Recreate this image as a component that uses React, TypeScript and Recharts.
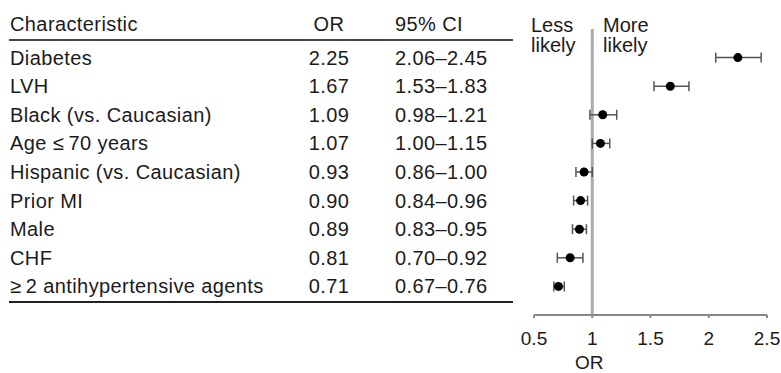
import {
  ErrorBar,
  ReferenceLine,
  Scatter,
  ScatterChart,
  XAxis,
  YAxis,
} from "recharts";

const characteristics = [
  "Diabetes",
  "LVH",
  "Black (vs. Caucasian)",
  "Age \u2264\u200970 years",
  "Hispanic (vs. Caucasian)",
  "Prior MI",
  "Male",
  "CHF",
  "\u2265\u20092 antihypertensive agents",
];
const oddsRatios = [2.25, 1.67, 1.09, 1.07, 0.93, 0.9, 0.89, 0.81, 0.71];
const ciLower = [2.06, 1.53, 0.98, 1.0, 0.86, 0.84, 0.83, 0.7, 0.67];
const ciUpper = [2.45, 1.83, 1.21, 1.15, 1.0, 0.96, 0.95, 0.92, 0.76];
const xTicks = [0.5, 1, 1.5, 2, 2.5];

const FONT = "'Liberation Sans', Arial, Helvetica, sans-serif";
const TEXT = "#1b1b1b";
const SPACING = 0.4;

const rows = characteristics.map((name, i) => ({
  row: i,
  name,
  or: oddsRatios[i],
  err: [oddsRatios[i] - ciLower[i], ciUpper[i] - oddsRatios[i]],
}));

const fmt = (v: number) => v.toFixed(2);

// table columns are drawn as the y-axis tick, one row per category
const renderRowTick = (props: any) => {
  const { y, payload } = props;
  const i = Number(payload?.value);
  if (!(i >= 0 && i < rows.length)) return <g />;
  const txt = { fontFamily: FONT, fontSize: 20, fill: TEXT, letterSpacing: SPACING };
  return (
    <g>
      <text x={10} y={y + 7} {...txt}>
        {characteristics[i]}
      </text>
      <text x={329} y={y + 7} textAnchor="middle" {...txt}>
        {fmt(oddsRatios[i])}
      </text>
      <text x={395} y={y + 7} {...txt}>
        {fmt(ciLower[i])}–{fmt(ciUpper[i])}
      </text>
    </g>
  );
};

const Dot = (props: any) => {
  const { cx, cy } = props;
  return <circle cx={cx} cy={cy} r={4.5} fill="#000" />;
};

const abs = (left: number, top: number, extra: any = {}) => ({
  position: "absolute" as const,
  left,
  top,
  fontFamily: FONT,
  fontSize: 20,
  color: TEXT,
  lineHeight: "20px",
  letterSpacing: SPACING,
  whiteSpace: "nowrap" as const,
  ...extra,
});

export default function App() {
  return (
    <div
      style={{
        position: "absolute",
        left: 0,
        top: 0,
        width: 781,
        height: 373,
        background: "#fff",
        overflow: "hidden",
      }}
    >
      <ScatterChart
        width={781}
        height={373}
        margin={{ top: 29, right: 14, bottom: 0, left: 533 }}
      >
        <XAxis
          type="number"
          dataKey="or"
          domain={[0.5, 2.5]}
          ticks={xTicks}
          height={58}
          axisLine={{ stroke: "#888", strokeWidth: 2 }}
          tickLine={{ stroke: "#888", strokeWidth: 2 }}
          tickSize={3}
          tickMargin={14}
          tick={{ fontFamily: FONT, fontSize: 19, fill: TEXT }}
        />
        <YAxis
          type="number"
          dataKey="row"
          domain={[-1, 9]}
          ticks={[0, 1, 2, 3, 4, 5, 6, 7, 8]}
          reversed
          width={1}
          axisLine={false}
          tickLine={false}
          tick={renderRowTick}
          interval={0}
        />
        <ReferenceLine x={1} stroke="#aaa" strokeWidth={3} />
        <Scatter data={rows} shape={<Dot />} isAnimationActive={false}>
          <ErrorBar
            dataKey="err"
            direction="x"
            width={5}
            stroke="#555"
            strokeWidth={1.5}
          />
        </Scatter>
      </ScatterChart>

      <div style={abs(10, 14)}>Characteristic</div>
      <div style={abs(309, 14, { width: 40, textAlign: "center" })}>OR</div>
      <div style={abs(395, 14)}>95% CI</div>
      <div style={abs(531, 15, { letterSpacing: 0 })}>
        Less
        <br />
        likely
      </div>
      <div style={abs(603, 15, { letterSpacing: 0 })}>
        More
        <br />
        likely
      </div>
      <div
        style={{ position: "absolute", left: 9, top: 39, width: 504, height: 2, background: "#444" }}
      />
      <div
        style={{ position: "absolute", left: 9, top: 301, width: 504, height: 2, background: "#222" }}
      />
      <div style={abs(575, 353, { fontSize: 19, letterSpacing: 0 })}>OR</div>
    </div>
  );
}
